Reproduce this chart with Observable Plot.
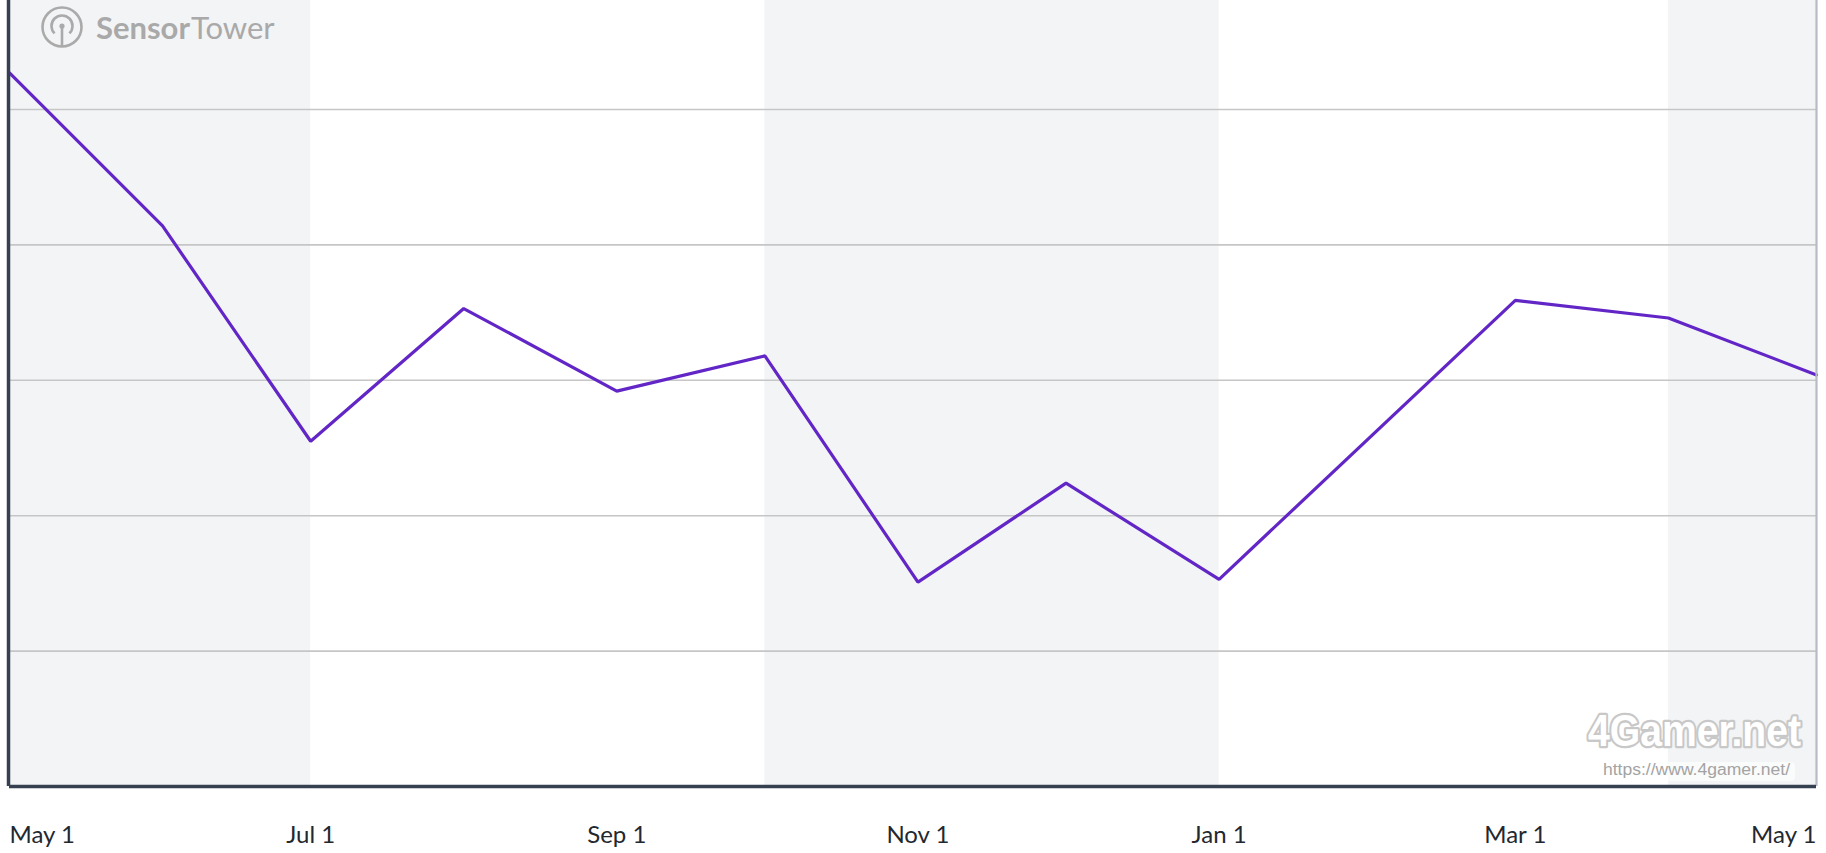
<!DOCTYPE html>
<html>
<head>
<meta charset="utf-8">
<script src="https://cdn.jsdelivr.net/npm/d3@7"></script>
<script src="https://cdn.jsdelivr.net/npm/@observablehq/plot@0.6"></script>
<style>
  html, body { margin: 0; padding: 0; background: #fff; }
  #wrap { position: relative; width: 1826px; height: 853px; overflow: hidden; }
  #overlay { position: absolute; left: 0; top: 0; pointer-events: none; }
</style>
</head>
<body>
<div id="wrap">
  <div id="chart"></div>
  <svg id="overlay" width="1826" height="853" xmlns="http://www.w3.org/2000/svg">
    <!-- Sensor Tower logo -->
    <g stroke="#aaaaaa" fill="none" stroke-width="2.6">
      <circle cx="62" cy="27" r="19.5"></circle>
      <path d="M54.6,33.4 A10.5,10.5 0 1 1 69.4,33.4"></path>
      <line x1="62" y1="26" x2="62" y2="46.5"></line>
    </g>
    <circle cx="62" cy="26" r="2.6" fill="#aaaaaa"></circle>
    <text x="96" y="39" font-family="Lato, 'Noto Sans', sans-serif" font-size="31" fill="#a9a9a9"><tspan font-weight="700">Sensor</tspan><tspan font-weight="400" dx="1">Tower</tspan></text>
    <!-- 4Gamer.net watermark -->
    <rect x="1600" y="762" width="195" height="19" rx="4" fill="#ffffff" fill-opacity="0.6"></rect>
    <g transform="translate(1588,746) scale(1,1.18)">
      <text x="0" y="0" font-family="'Liberation Sans', Arial, sans-serif" font-weight="bold" font-size="38" textLength="213" lengthAdjust="spacingAndGlyphs" fill="#ffffff" stroke="#c8c8c8" stroke-width="4" paint-order="stroke" stroke-linejoin="round">4Gamer.net</text>
    </g>
    <text x="1603" y="775" font-family="'Liberation Sans', Arial, sans-serif" font-size="16" textLength="187" lengthAdjust="spacingAndGlyphs" fill="#a3a3a3">https://www.4gamer.net/</text>
  </svg>
</div>
<script>
// ---- data ----
const dates = ["2023-05-01","2023-06-01","2023-07-01","2023-08-01","2023-09-01","2023-10-01","2023-11-01","2023-12-01","2024-01-01","2024-03-01","2024-04-01","2024-05-01"];
const values = [5.27, 4.14, 2.55, 3.53, 2.92, 3.18, 1.51, 2.24, 1.53, 3.59, 3.46, 3.04];
const bandStarts = ["2023-05-01","2023-10-01","2024-04-01"];
const bandEnds   = ["2023-07-01","2024-01-01","2024-05-01"];
const gridValues = [1, 2, 3, 4, 5];
const tickDates = ["2023-05-01","2023-07-01","2023-09-01","2023-11-01","2024-01-01","2024-03-01","2024-05-01"];
const tickLabels = ["May 1","Jul 1","Sep 1","Nov 1","Jan 1","Mar 1","May 1"];
const yMax = 5.805;

const parse = d3.utcParse("%Y-%m-%d");
const series = dates.map((d, i) => ({date: parse(d), value: values[i]}));
const bands = bandStarts.map((s, i) => ({start: parse(s), end: parse(bandEnds[i])}));
const ticks = tickDates.map((d, i) => ({date: parse(d), label: tickLabels[i]}));
const xStart = parse(dates[0]);
const xEnd = parse(dates[dates.length - 1]);

const tickFont = {fontFamily: "Lato, 'Noto Sans', sans-serif", fontSize: 24, fill: "#23282f", frameAnchor: "bottom", dy: 49, lineAnchor: "middle"};

const chart = Plot.plot({
  width: 1826,
  height: 853,
  marginLeft: 9,
  marginRight: 10,
  marginTop: 0,
  marginBottom: 67,
  x: {type: "utc", domain: [xStart, xEnd], axis: null},
  y: {domain: [0, yMax], axis: null},
  marks: [
    Plot.rect(bands, {x1: "start", x2: "end", y1: 0, y2: yMax, fill: "#f3f4f6"}),
    Plot.ruleY(gridValues, {stroke: "#c6c6c6", strokeWidth: 1.6}),
    Plot.line(series, {x: "date", y: "value", stroke: "#6226c7", strokeWidth: 3.2, strokeLinejoin: "miter"}),
    Plot.ruleX([xEnd], {stroke: "#b6bbc7", strokeWidth: 2.2}),
    Plot.ruleX([xStart], {stroke: "#354050", strokeWidth: 3.5, dx: -1}),
    Plot.ruleY([0], {stroke: "#354050", strokeWidth: 3.5}),
    Plot.text(ticks.slice(0, 1), {x: "date", text: "label", textAnchor: "start", ...tickFont}),
    Plot.text(ticks.slice(1, -1), {x: "date", text: "label", textAnchor: "middle", ...tickFont}),
    Plot.text(ticks.slice(-1), {x: "date", text: "label", textAnchor: "end", ...tickFont})
  ]
});
document.getElementById("chart").appendChild(chart);
</script>
</body>
</html>
